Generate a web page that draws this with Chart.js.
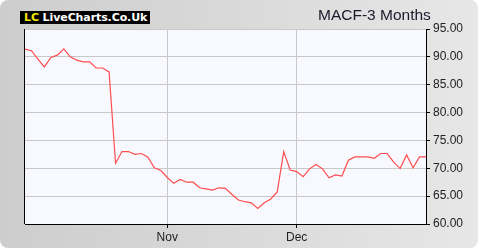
<!DOCTYPE html>
<html>
<head>
<meta charset="UTF-8">
<title>MACF-3 Months</title>
<script src="https://cdn.jsdelivr.net/npm/chart.js@4/dist/chart.umd.min.js"></script>
<style>
  html, body { margin: 0; padding: 0; background: #fff; }
  #panel {
    position: relative; width: 478px; height: 248px;
    border-radius: 8px; overflow: hidden;
    background: linear-gradient(to right, #cdcdcd 0%, #d8d8d8 45%, #e7e7e7 100%);
  }
  #chart { position: absolute; left: 0; top: 0; }
  #logo {
    position: absolute; left: 20px; top: 11px; height: 13px;
    background: #000; font: bold 11px "DejaVu Sans", Verdana, sans-serif; letter-spacing: -0.1px;
    line-height: 13px; color: #fff; white-space: nowrap; padding: 0 3px 0 4px;
  }
  #logo span { color: #f2e600; }
  #title {
    position: absolute; left: 318px; top: 6px;
    font: 15.5px "Liberation Sans", Arial, sans-serif; color: #1a1a2a; white-space: nowrap;
  }
</style>
</head>
<body>
<div id="panel">
  <canvas id="chart" width="480" height="250"></canvas>
  <div id="logo"><span>LC</span> LiveCharts.Co.Uk</div>
  <div id="title">MACF-3 Months</div>
</div>

<script>
  // closing prices, one per trading day
  var prices = [
    91.4, 91.1, 89.6, 88.2, 89.9, 90.3, 91.45, 90.0, 89.4, 89.1,
    89.1, 88.0, 88.0, 87.3, 70.9, 73.0, 73.0, 72.5, 72.65, 72.0,
    70.1, 69.6, 68.35, 67.3, 68.0, 67.5, 67.5, 66.5, 66.3, 66.1,
    66.5, 66.4, 65.3, 64.3, 64.0, 63.8, 62.8, 63.8, 64.5, 65.75,
    73.0, 69.7, 69.4, 68.5, 69.9, 70.7, 69.9, 68.3, 68.8, 68.6,
    71.45, 72.05, 72.05, 72.05, 71.8, 72.65, 72.65, 71.1, 69.95, 72.4,
    70.1, 72.05, 72.05
  ];
  // month labels and the index of the first trading day of each
  var monthNames = ['Nov', 'Dec'];
  var monthStarts = [22, 42];

  var yMin = 60, yMax = 95, yStep = 5;

  var labels = prices.map(function (p, i) {
    var k = monthStarts.indexOf(i);
    return k >= 0 ? monthNames[k] : '';
  });

  var plotBg = {
    id: 'plotBg',
    beforeDraw: function (chart) {
      var a = chart.chartArea, c = chart.ctx;
      c.save();
      c.fillStyle = '#f8f9ff';
      c.fillRect(a.left, a.top, a.right - a.left, a.bottom - a.top);
      c.restore();
    },
    afterDraw: function (chart) {
      var a = chart.chartArea, c = chart.ctx;
      c.save();
      c.strokeStyle = '#000';
      c.lineWidth = 1;
      c.beginPath();
      c.moveTo(a.left - 0.5, a.top);
      c.lineTo(a.left - 0.5, a.bottom);
      c.stroke();
      c.restore();
    }
  };

  new Chart(document.getElementById('chart').getContext('2d'), {
    type: 'line',
    data: {
      labels: labels,
      datasets: [{
        data: prices,
        borderColor: '#ff4d4d',
        borderWidth: 1.2,
        pointRadius: 0,
        tension: 0,
        fill: false
      }]
    },
    options: {
      responsive: false,
      animation: false,
      devicePixelRatio: 1,
      layout: { padding: { left: 25, top: 29, right: 0, bottom: 0 } },
      plugins: { legend: { display: false }, tooltip: { enabled: false } },
      scales: {
        x: {
          type: 'category',
          offset: false,
          afterFit: function (s) { s.height = 26; },
          grid: {
            color: function (ctx) { return labels[ctx.index] ? '#c8c8c8' : 'transparent'; },
            tickColor: function (ctx) { return labels[ctx.index] ? '#000' : 'transparent'; },
            tickLength: 4
          },
          border: { color: '#000', width: 1 },
          ticks: {
            autoSkip: false, maxRotation: 0, padding: 2,
            color: '#222',
            font: { family: '"Liberation Sans", Arial, sans-serif', size: 12 },
            callback: function (v, i) { return labels[i]; }
          }
        },
        y: {
          position: 'right',
          min: yMin, max: yMax,
          afterFit: function (s) { s.width = 54; },
          grid: { color: '#c8c8c8', tickColor: '#000', tickLength: 4 },
          border: { color: '#000', width: 1 },
          ticks: {
            stepSize: yStep, padding: 3,
            color: '#222',
            font: { family: '"Liberation Sans", Arial, sans-serif', size: 12 },
            callback: function (v) { return v.toFixed(2); }
          }
        }
      }
    },
    plugins: [plotBg]
  });
</script>
</body>
</html>
